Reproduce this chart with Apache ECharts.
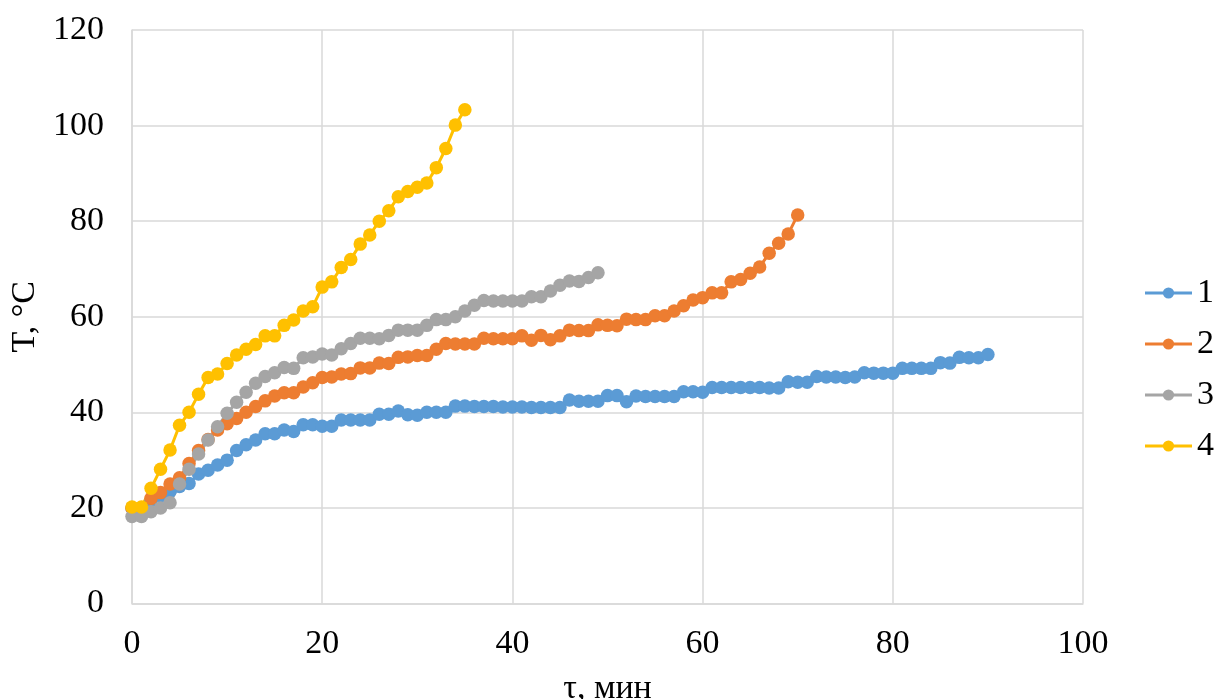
<!DOCTYPE html>
<html>
<head>
<meta charset="utf-8">
<script src="https://cdn.jsdelivr.net/npm/echarts@6/dist/echarts.min.js"></script>
<style>
html,body{margin:0;padding:0;background:#fff;}
#chart{width:1219px;height:699px;}
</style>
</head>
<body>
<div id="chart"></div>
<script>
// Temperature readings (°C), one per minute starting at τ = 0
const series1 = [20,20,21.5,22.5,23.5,24.5,25.1,27.1,27.9,29.0,30.0,32.0,33.2,34.2,35.5,35.5,36.3,36.0,37.4,37.4,37.1,37.1,38.4,38.4,38.4,38.4,39.6,39.6,40.3,39.5,39.4,40.0,40.0,40.0,41.3,41.3,41.2,41.2,41.2,41.1,41.1,41.1,41.0,41.0,41.0,41.0,42.6,42.3,42.3,42.3,43.5,43.5,42.2,43.4,43.3,43.3,43.3,43.3,44.3,44.3,44.2,45.2,45.2,45.2,45.2,45.2,45.2,45.1,45.1,46.4,46.3,46.3,47.5,47.4,47.4,47.3,47.4,48.3,48.2,48.2,48.2,49.2,49.2,49.2,49.2,50.4,50.3,51.5,51.4,51.4,52.1];
const series2 = [20,20,22,23.2,25,26.3,29.3,32,34.3,36.3,37.6,38.7,40,41.2,42.4,43.4,44.1,44.1,45.3,46.2,47.3,47.4,48.0,48.1,49.3,49.3,50.3,50.2,51.5,51.6,51.9,51.9,53.2,54.4,54.3,54.3,54.3,55.5,55.4,55.4,55.4,56.0,55.1,56.1,55.2,56.0,57.2,57.1,57.1,58.3,58.2,58.1,59.5,59.4,59.4,60.2,60.2,61.2,62.3,63.5,64.0,65.0,65.0,67.3,67.8,69.1,70.4,73.3,75.4,77.3,81.3];
const series3 = [18.2,18.2,19.2,20.0,21.1,25.0,28.1,31.3,34.2,37.0,39.8,42.1,44.2,46.1,47.5,48.3,49.4,49.2,51.4,51.6,52.2,52.0,53.3,54.4,55.5,55.5,55.4,56.1,57.2,57.2,57.2,58.2,59.4,59.4,60.0,61.2,62.4,63.4,63.3,63.3,63.3,63.3,64.2,64.2,65.4,66.6,67.5,67.4,68.2,69.2];
const series4 = [20.2,20.2,24.1,28.1,32.1,37.3,40.0,43.8,47.3,48.0,50.2,52.0,53.2,54.2,56.0,56.0,58.2,59.3,61.2,62.1,66.2,67.3,70.3,72.0,75.2,77.1,80.0,82.2,85.1,86.2,87.1,88.0,91.2,95.2,100.1,103.3];
const seriesNames = ['1','2','3','4'];
const seriesColors = ['#5B9BD5','#ED7D31','#A5A5A5','#FFC000'];
const xTicks = [0,20,40,60,80,100];
const yTicks = [0,20,40,60,80,100,120];
const xTitle = 'τ, мин';
const yTitle = 'T, °C';

const allSeries = [series1, series2, series3, series4];
const FONT = 'Liberation Serif';
const chart = echarts.init(document.getElementById('chart'), null, {renderer:'canvas'});
chart.setOption({
  animation:false,
  backgroundColor:'#fff',
  grid:{left:132, right:136, top:30, bottom:95.5, containLabel:false, outerBoundsMode:'none'},
  legend:{
    orient:'vertical', right:0, top:271,
    itemWidth:47, itemHeight:14, itemGap:17,
    lineStyle:{width:3},
    textStyle:{fontFamily:FONT, fontSize:34, color:'#000', lineHeight:32},
    data:seriesNames
  },
  xAxis:{
    type:'value', min:xTicks[0], max:xTicks[xTicks.length-1], interval:xTicks[1]-xTicks[0],
    name:xTitle, nameLocation:'middle', nameGap:69,
    nameTextStyle:{fontFamily:FONT, fontSize:34, color:'#000'},
    axisLine:{show:true, lineStyle:{color:'#d9d9d9', width:1.5}},
    axisTick:{show:false},
    axisLabel:{fontFamily:FONT, fontSize:34, color:'#000', margin:24},
    splitLine:{show:true, lineStyle:{color:'#d9d9d9', width:1.5}}
  },
  yAxis:{
    type:'value', min:yTicks[0], max:yTicks[yTicks.length-1], interval:yTicks[1]-yTicks[0],
    name:yTitle, nameLocation:'middle', nameGap:88,
    nameTextStyle:{fontFamily:FONT, fontSize:34, color:'#000'},
    axisLine:{show:true, lineStyle:{color:'#d9d9d9', width:1.5}},
    axisTick:{show:false},
    axisLabel:{fontFamily:FONT, fontSize:34, color:'#000', margin:28},
    splitLine:{show:true, lineStyle:{color:'#d9d9d9', width:1.5}}
  },
  series: allSeries.map((vals, k) => ({
    name: seriesNames[k],
    type:'line',
    data: vals.map((v, i) => [i, v]),
    symbol:'circle', symbolSize:13.5, showAllSymbol:true,
    lineStyle:{color:seriesColors[k], width:3},
    itemStyle:{color:seriesColors[k]},
    emphasis:{disabled:true}
  }))
});
</script>
</body>
</html>
